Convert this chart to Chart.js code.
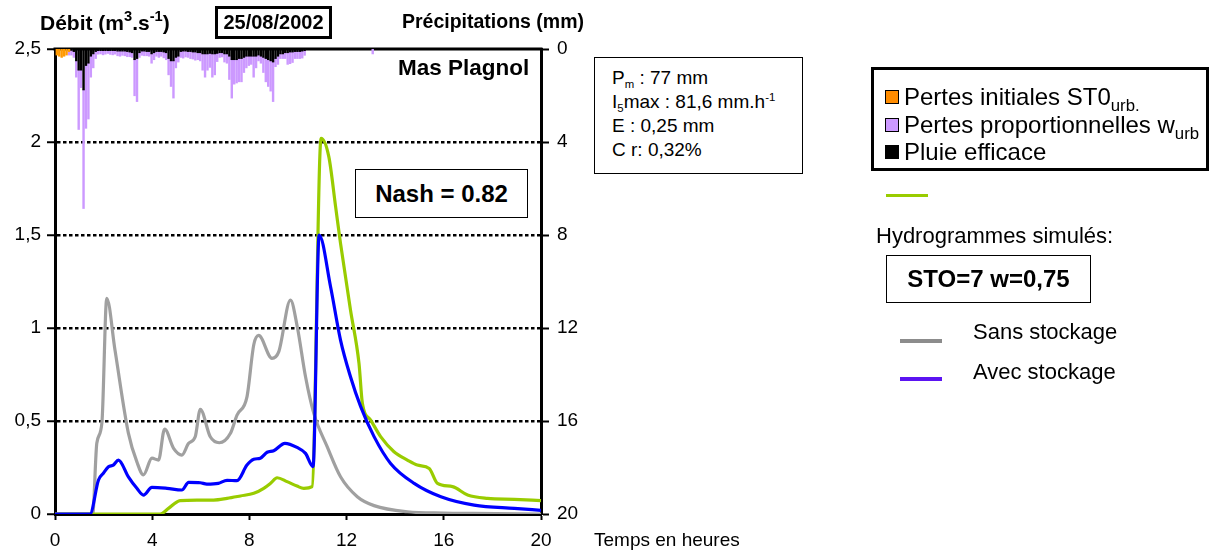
<!DOCTYPE html>
<html lang="fr">
<head>
<meta charset="utf-8">
<title>Mas Plagnol – 25/08/2002</title>
<script src="https://cdn.jsdelivr.net/npm/chart.js@4.4.1/dist/chart.umd.min.js"></script>
<style>
  html, body { margin: 0; padding: 0; background: #fff; }
  body { width: 1213px; height: 554px; position: relative; overflow: hidden;
         font-family: "Liberation Sans", Arial, Helvetica, sans-serif; color: #000; }
  #chart { position: absolute; left: 0; top: 0; }
  .lbl { position: absolute; white-space: nowrap; line-height: 1; }
  .b { font-weight: bold; }
  .box { position: absolute; box-sizing: border-box; background: #fff; }
  .center { display: flex; align-items: center; justify-content: center; }
  sup { font-size: 0.6em; vertical-align: 0.6em; line-height: 0; }
  sub { font-size: 0.6em; vertical-align: -0.35em; line-height: 0; }
  .big sub { font-size: 0.7em; }
  .sq { position: absolute; width: 14px; height: 14px; box-sizing: border-box; border: 1.5px solid #000; }
  .seg { position: absolute; width: 42px; height: 4px; }
</style>
</head>
<body>
<canvas id="chart" width="1213" height="554"></canvas>

<!-- axis titles -->
<div class="lbl b" style="left:40px;top:12px;font-size:21px">Débit (m<sup style="font-size:0.7em">3</sup>.s<sup style="font-size:0.7em">-1</sup>)</div>
<div class="box center b" style="left:215px;top:6px;width:117px;height:33px;border:3px solid #000;font-size:20px">25/08/2002</div>
<div class="lbl b" style="left:402px;top:12px;font-size:19.5px">Précipitations (mm)</div>
<div class="lbl" style="left:594px;top:530px;font-size:19px">Temps en heures</div>

<!-- labels inside the plot -->
<div class="lbl b" style="left:398px;top:57px;font-size:22.5px">Mas Plagnol</div>
<div class="box center b" style="left:355px;top:169px;width:173px;height:49px;border:1.5px solid #000;font-size:24px">Nash = 0.82</div>

<!-- event summary -->
<div class="box" style="left:594px;top:57px;width:209px;height:117px;border:1.5px solid #000;font-size:19px;line-height:24px;padding:8px 0 0 17px">
  P<sub>m</sub> : 77 mm<br>
  I<sub>5</sub>max : 81,6 mm.h<sup>-1</sup><br>
  E : 0,25 mm<br>
  C r: 0,32%
</div>

<!-- rainfall legend -->
<div class="box" style="left:871px;top:67px;width:338px;height:104px;border:3px solid #000"></div>
<div class="sq" style="left:885px;top:90px;background:#ff8c00"></div>
<div class="lbl big" style="left:904px;top:85px;font-size:24px">Pertes initiales ST0<sub>urb.</sub></div>
<div class="sq" style="left:885px;top:118px;background:#cc99ff"></div>
<div class="lbl big" style="left:904px;top:113px;font-size:24px">Pertes proportionnelles w<sub>urb</sub></div>
<div class="sq" style="left:885px;top:145px;background:#000"></div>
<div class="lbl big" style="left:904px;top:140px;font-size:24px">Pluie efficace</div>

<!-- hydrograph legend -->
<div class="seg" style="left:886px;top:194px;height:3px;background:#99cc00"></div>
<div class="lbl" style="left:876px;top:225px;font-size:22px">Hydrogrammes simulés:</div>
<div class="box center b" style="left:886px;top:255px;width:205px;height:48px;border:1.5px solid #000;font-size:24px">STO=7 w=0,75</div>
<div class="seg" style="left:900px;top:339px;background:#8c8c8c"></div>
<div class="lbl" style="left:973px;top:321px;font-size:22px">Sans stockage</div>
<div class="seg" style="left:900px;top:377px;background:#5b14f2"></div>
<div class="lbl" style="left:973px;top:361px;font-size:22px">Avec stockage</div>

<script>
// --- discharge hydrographs (hours, m3/s) ---
const hoursSans = [0, 1.55, 1.72, 1.93, 2.13, 2.47, 3.02, 3.37, 3.64, 3.99, 4.26, 4.51, 4.88, 5.22, 5.5, 5.77,
  5.98, 6.39, 6.76, 7.22, 7.49, 7.9, 8.18, 8.38, 8.93, 9.21, 9.69, 9.97, 10.31, 10.65, 11.2, 11.75, 12.44,
  13.13, 14.5, 16, 17.2, 20];
const debitSans = [0, 0, 0.38, 0.49, 1.16, 0.88, 0.435, 0.28, 0.21, 0.30, 0.29, 0.457, 0.353, 0.317, 0.38, 0.415,
  0.563, 0.415, 0.383, 0.434, 0.532, 0.63, 0.91, 0.96, 0.837, 0.873, 1.15, 1.007, 0.738, 0.541, 0.362, 0.20, 0.093,
  0.045, 0.012, 0.005, 0.003, 0];

const hoursAvec = [0, 1.44, 1.79, 1.99, 2.2, 2.4, 2.61, 3.02, 3.37, 3.64, 3.99, 4.61, 5.22, 5.5, 5.98, 6.25, 6.72,
  7.08, 7.49, 7.9, 8.18, 8.45, 8.73, 9.0, 9.46, 9.96, 10.31, 10.62, 10.87, 11.34, 11.75, 12.16, 12.58, 13.13,
  13.81, 14.78, 15.88, 17.25, 18.9, 20];
const debitAvec = [0, 0, 0.183, 0.219, 0.254, 0.263, 0.29, 0.2, 0.138, 0.102, 0.143, 0.138, 0.129, 0.17, 0.168,
  0.161, 0.165, 0.181, 0.179, 0.263, 0.294, 0.30, 0.332, 0.34, 0.38, 0.358, 0.326, 0.255, 1.5, 1.222, 0.935, 0.738,
  0.577, 0.416, 0.272, 0.165, 0.093, 0.048, 0.03, 0.02];

const hoursObs = [0, 4.33, 4.67, 5.15, 5.84, 6.53, 7.08, 7.63, 8.18, 8.59, 8.87, 9.14, 9.55, 9.96, 10.24, 10.58,
  10.95, 11.27, 11.55, 11.75, 12.16, 12.51, 12.65, 12.99, 13.4, 13.95, 14.5, 14.91, 15.4, 15.74, 16.36, 16.98,
  17.8, 18.9, 20];
const debitObs = [0, 0, 0.03, 0.072, 0.075, 0.075, 0.084, 0.097, 0.111, 0.138, 0.165, 0.195, 0.174, 0.15, 0.138,
  0.147, 2.02, 1.92, 1.65, 1.455, 1.097, 0.81, 0.595, 0.505, 0.416, 0.335, 0.29, 0.263, 0.245, 0.165, 0.147, 0.102,
  0.084, 0.079, 0.072];

// --- rainfall, one value per 0.1 h step starting at 0 h (mm) ---
const RAIN_STEP = 0.1;
const pertesInitiales = [0.25, 0.3, 0.35, 0.3, 0.25, 0.1];
const pluieEfficace = [
  0, 0, 0, 0, 0, 0, 0.05, 0.1, 0.5, 0.9,
  0.9, 1.75, 0.7, 0.6, 0.3, 0.2, 0.1, 0.06, 0.06, 0.06,
  0.06, 0.06, 0.06, 0.06, 0.06, 0.08, 0.08, 0.08, 0.08, 0.1,
  0.12, 0.15, 0.45, 0.4, 0.15, 0.08, 0.08, 0.1, 0.1, 0.2,
  0.15, 0.1, 0.1, 0.1, 0.12, 0.15, 0.4, 0.5, 0.5, 0.35,
  0.3, 0.1, 0.08, 0.08, 0.1, 0.1, 0.12, 0.12, 0.15, 0.15,
  0.2, 0.2, 0.2, 0.18, 0.2, 0.2, 0.18, 0.15, 0.15, 0.2,
  0.2, 0.3, 0.45, 0.45, 0.45, 0.4, 0.4, 0.35, 0.3, 0.3,
  0.3, 0.3, 0.3, 0.25, 0.3, 0.35, 0.4, 0.45, 0.5, 0.55,
  0.4, 0.3, 0.2, 0.2, 0.15, 0.15, 0.12, 0.12, 0.1, 0.1,
  0.1, 0.08, 0.06];
const pertesProp = [
  0, 0, 0, 0, 0, 0.15, 0.2, 0.25, 0.7, 2.55,
  0.75, 5.1, 2.7, 2.4, 0.9, 0.6, 0.3, 0.15, 0.14, 0.18,
  0.15, 0.12, 0.16, 0.18, 0.15, 0.2, 0.22, 0.18, 0.2, 0.22,
  0.2, 0.2, 1.55, 1.85, 0.2, 0.18, 0.2, 0.18, 0.2, 0.4,
  0.3, 0.2, 0.25, 0.2, 0.25, 0.3, 0.7, 1.1, 1.6, 0.45,
  0.25, 0.25, 0.3, 0.25, 0.25, 0.3, 0.3, 0.35, 0.3, 0.35,
  0.7, 1.0, 0.7, 0.6, 1.0, 0.9, 0.35, 0.2, 0.18, 0.35,
  0.4, 1.0, 1.65, 1.05, 1.0, 1.0, 1.0, 0.65, 0.5, 0.4,
  0.35, 0.9, 0.5, 0.25, 0.3, 0.65, 1.0, 1.15, 1.3, 1.7,
  0.35, 0.35, 0.2, 0.2, 0.25, 0.5, 0.5, 0.45, 0.3, 0.3,
  0.3, 0.3, 0.2, 0, 0, 0, 0, 0, 0, 0,
  0, 0, 0, 0, 0, 0, 0, 0, 0, 0,
  0, 0, 0, 0, 0, 0, 0, 0, 0, 0,
  0.2];

const hourTicks = [0, 4, 8, 12, 16, 20];
const debitTicks = [0, 0.5, 1, 1.5, 2, 2.5];
const pluieTicks = [0, 4, 8, 12, 16, 20];

const toPoints = (hours, vals) => hours.map((h, i) => ({ x: h, y: vals[i] }));
const rainPoints = vals => vals.map((v, i) => ({ x: (i + 0.5) * RAIN_STEP, y: v || null }));

const lineStyle = { borderWidth: 3.2, pointRadius: 0, fill: false, cubicInterpolationMode: 'monotone', xAxisID: 'x', yAxisID: 'y' };
const barStyle = { type: 'bar', xAxisID: 'xr', yAxisID: 'y2', borderWidth: 0, barPercentage: 1, categoryPercentage: 1, inflateAmount: 0.6 };

// black frame line along the top of the plot (the axes draw the other three sides)
const topFrame = {
  id: 'topFrame',
  beforeDatasetsDraw(chart) {
    const { ctx, chartArea: a } = chart;
    ctx.save();
    ctx.strokeStyle = '#000';
    ctx.lineWidth = 3;
    ctx.beginPath();
    ctx.moveTo(a.left - 1.5, a.top);
    ctx.lineTo(a.right + 1.5, a.top);
    ctx.stroke();
    ctx.restore();
  }
};

const tickFont = { family: '"Liberation Sans", Arial, sans-serif', size: 19 };

new Chart(document.getElementById('chart'), {
  type: 'line',
  data: {
    datasets: [
      { ...lineStyle, label: 'Avec stockage', data: toPoints(hoursAvec, debitAvec), borderColor: '#0000ff' },
      { ...lineStyle, label: 'Observé', data: toPoints(hoursObs, debitObs), borderColor: '#99cc00' },
      { ...lineStyle, label: 'Sans stockage', data: toPoints(hoursSans, debitSans), borderColor: '#a0a0a0' },
      { ...barStyle, label: 'Pertes initiales ST0urb.', data: rainPoints(pertesInitiales), backgroundColor: '#ff9900' },
      { ...barStyle, label: 'Pluie efficace', data: rainPoints(pluieEfficace), backgroundColor: '#000000' },
      { ...barStyle, label: 'Pertes proportionnelles wurb', data: rainPoints(pertesProp), backgroundColor: '#cc99ff' }
    ]
  },
  options: {
    responsive: false,
    animation: false,
    devicePixelRatio: 1,
    layout: { padding: { left: 0, top: 49, right: 632, bottom: 0 } },
    plugins: { legend: { display: false }, tooltip: { enabled: false } },
    scales: {
      x: {
        type: 'linear', position: 'bottom', min: 0, max: 20, offset: false,
        afterFit: s => { s.height = 40; },
        afterBuildTicks: s => { s.ticks = hourTicks.map(v => ({ value: v })); },
        ticks: { color: '#000', font: tickFont, padding: 9, maxRotation: 0, autoSkip: false },
        grid: { drawOnChartArea: false, offset: false, tickLength: 6, tickColor: '#000', tickWidth: 2 },
        border: { color: '#000', width: 3 }
      },
      // hidden time axis for the rain columns; bars would otherwise pad it inwards
      xr: { type: 'linear', min: 0, max: 20, display: false, stacked: true, offset: false, grid: { offset: false } },
      y: {
        position: 'left', min: 0, max: 2.5,
        afterFit: s => { s.width = 55; },
        afterBuildTicks: s => { s.ticks = debitTicks.map(v => ({ value: v })); },
        ticks: { color: '#000', font: tickFont, padding: 6, callback: v => String(v).replace('.', ',') },
        grid: {
          color: c => (c.tick && c.tick.value > 0 && c.tick.value < 2.5) ? '#000' : 'rgba(0,0,0,0)',
          lineWidth: 2.5, tickColor: '#000', tickBorderDash: [], tickLength: 8, tickWidth: 2
        },
        // in Chart.js 4 the dash pattern of the grid lines lives under border
        border: { color: '#000', width: 3, dash: [3.5, 2.5] }
      },
      y2: {
        position: 'right', min: 0, max: 20, reverse: true, stacked: true,
        afterFit: s => { s.width = 40; },
        afterBuildTicks: s => { s.ticks = pluieTicks.map(v => ({ value: v })); },
        ticks: { color: '#000', font: tickFont, padding: 8 },
        grid: { drawOnChartArea: false, tickLength: 8, tickColor: '#000', tickWidth: 2 },
        border: { color: '#000', width: 3 }
      }
    }
  },
  plugins: [topFrame]
});
</script>
</body>
</html>
